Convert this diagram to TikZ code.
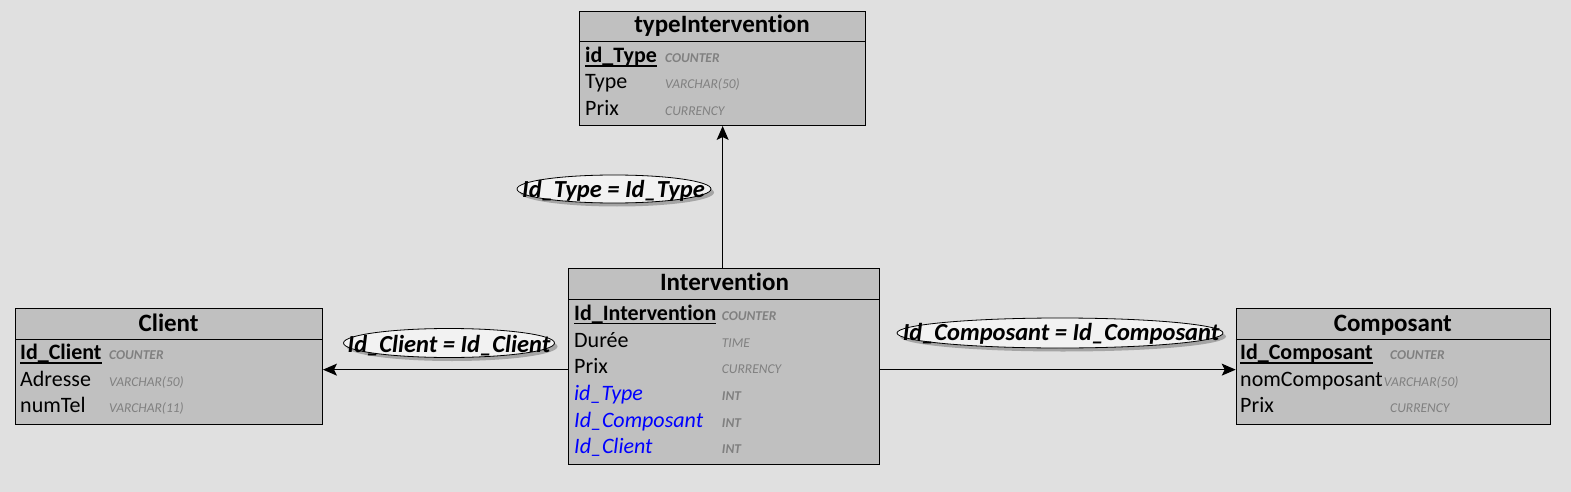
\documentclass[tikz,border=0pt]{standalone}
\usepackage{fontspec}
\setmainfont{Carlito}[Ligatures={NoCommon}]
\usetikzlibrary{arrows.meta,shapes.geometric,shadows}
\definecolor{bgc}{RGB}{224,224,224}
\definecolor{tblc}{RGB}{192,192,192}
\definecolor{typc}{RGB}{128,128,128}
\definecolor{fkc}{RGB}{0,0,255}
\definecolor{elc}{RGB}{242,242,242}
\definecolor{shc}{RGB}{165,165,165}
\tikzset{
  tbl/.style={draw=black, fill=tblc, line width=1pt, rectangle, inner sep=0pt, anchor=north west},
  ttl/.style={anchor=base, inner sep=0pt, font=\fontsize{25}{30}\selectfont\bfseries},
  fld/.style={anchor=base west, inner sep=0pt, font=\fontsize{22}{26}\selectfont},
  pkf/.style={fld, font=\fontsize{22}{26}\selectfont\bfseries},
  fkf/.style={fld, text=fkc, font=\fontsize{22}{26}\selectfont\itshape},
  typ/.style={anchor=base west, inner sep=0pt, text=typc, font=\fontsize{13.5}{16}\selectfont\itshape},
  typb/.style={typ, font=\fontsize{13.5}{16}\selectfont\bfseries\itshape},
  uline/.style={line width=1.3pt},
  hline/.style={line width=1pt},
  arr/.style={line width=1pt, -{Stealth[length=14pt,width=12pt,inset=3pt]}},
  ell/.style={ellipse, draw=black, line width=0.8pt, fill=elc, inner sep=0pt,
    drop shadow={shadow xshift=3pt, shadow yshift=-3.5pt, fill=shc, opacity=1}},
  elt/.style={anchor=base, inner sep=0pt, font=\fontsize{24.5}{29}\selectfont\bfseries\itshape}
}
\begin{document}
\begin{tikzpicture}[x=1pt,y=-1pt]
\useasboundingbox (0,0) rectangle (1571,492);
\fill[bgc] (0,0) rectangle (1571,492);

% ---------- typeIntervention ----------
\node[tbl, minimum width=285.7pt, minimum height=114pt] (typeI) at (579.3,11) {};
\draw[hline] ([yshift=-31pt]typeI.north west) -- ([yshift=-31pt]typeI.north east);
\node[ttl] (typeIt) at (722,33) {typeIntervention};
\node[pkf] (tf1) at (585,62.3) {id\_Type};
\node[fld] (tf2) at (585,89) {Type};
\node[fld] (tf3) at (585,115.7) {Prix};
\draw[uline] ([yshift=-3.6pt]tf1.base west) -- ([yshift=-3.6pt]tf1.base east);
\node[typb] (tt1) at (665,62.3) {COUNTER};
\node[typ] (tt2) at (665,89) {VARCHAR(50)};
\node[typ] (tt3) at (665,115.7) {CURRENCY};

% ---------- Intervention ----------
\node[tbl, minimum width=311pt, minimum height=195.7pt] (interv) at (568.3,268.3) {};
\draw[hline] ([yshift=-31pt]interv.north west) -- ([yshift=-31pt]interv.north east);
\node[ttl] (intervt) at (724.5,290.8) {Intervention};
\node[pkf] (if1) at (574,320) {Id\_Intervention};
\node[fld] (if2) at (574,347) {Durée};
\node[fld] (if3) at (574,373.7) {Prix};
\node[fkf] (if4) at (574,400.3) {id\_Type};
\node[fkf] (if5) at (574,427) {Id\_Composant};
\node[fkf] (if6) at (574,453.5) {Id\_Client};
\draw[uline] ([yshift=-3.6pt]if1.base west) -- ([yshift=-3.6pt]if1.base east);
\node[typb] (it1) at (721.7,320) {COUNTER};
\node[typ] (it2) at (721.7,347) {TIME};
\node[typ] (it3) at (721.7,373.7) {CURRENCY};
\node[typb] (it4) at (721.7,400.3) {INT};
\node[typb] (it5) at (721.7,427) {INT};
\node[typb] (it6) at (721.7,453.5) {INT};

% ---------- Client ----------
\node[tbl, minimum width=306.7pt, minimum height=115.7pt] (client) at (15.3,308.3) {};
\draw[hline] ([yshift=-31pt]client.north west) -- ([yshift=-31pt]client.north east);
\node[ttl] (clientt) at (168.6,331.3) {Client};
\node[pkf] (cf1) at (20,359.3) {Id\_Client};
\node[fld] (cf2) at (20,386) {Adresse};
\node[fld] (cf3) at (20,412.7) {numTel};
\draw[uline] ([yshift=-3.6pt]cf1.base west) -- ([yshift=-3.6pt]cf1.base east);
\node[typb] (ct1) at (109,359.3) {COUNTER};
\node[typ] (ct2) at (109,386) {VARCHAR(50)};
\node[typ] (ct3) at (109,412.7) {VARCHAR(11)};

% ---------- Composant ----------
\node[tbl, minimum width=314.3pt, minimum height=115.7pt] (compo) at (1235.7,308.3) {};
\draw[hline] ([yshift=-31pt]compo.north west) -- ([yshift=-31pt]compo.north east);
\node[ttl] (compot) at (1392.8,331.3) {Composant};
\node[pkf] (pf1) at (1240,359.3) {Id\_Composant};
\node[fld] (pf2) at (1240,386) {nomComposant};
\node[fld] (pf3) at (1240,412.7) {Prix};
\draw[uline] ([yshift=-3.6pt]pf1.base west) -- ([yshift=-3.6pt]pf1.base east);
\node[typb] (pt1) at (1390,359.3) {COUNTER};
\node[typ] (pt2) at (1383.7,386) {VARCHAR(50)};
\node[typ] (pt3) at (1390,412.7) {CURRENCY};

% ---------- connectors ----------
\draw[arr] (typeI.south |- interv.north) -- (typeI.south);
\draw[arr] ([yshift=-3pt]interv.west) -- ([yshift=-3pt]interv.west -| client.east);
\draw[arr] ([yshift=-3pt]interv.east) -- ([yshift=-3pt]interv.east -| compo.west);

% ---------- join labels ----------
\node[ell, minimum width=194pt, minimum height=28pt] (e1) at (614,189) {};
\node[elt] (e1t) at (613.5,197) {Id\_Type = Id\_Type};
\node[ell, minimum width=211pt, minimum height=29pt] (e2) at (449,343) {};
\node[elt] (e2t) at (449,352.5) {Id\_Client = Id\_Client};
\node[ell, minimum width=326pt, minimum height=30pt] (e3) at (1060,333) {};
\node[elt] (e3t) at (1061,340.7) {Id\_Composant = Id\_Composant};
\end{tikzpicture}
\end{document}
